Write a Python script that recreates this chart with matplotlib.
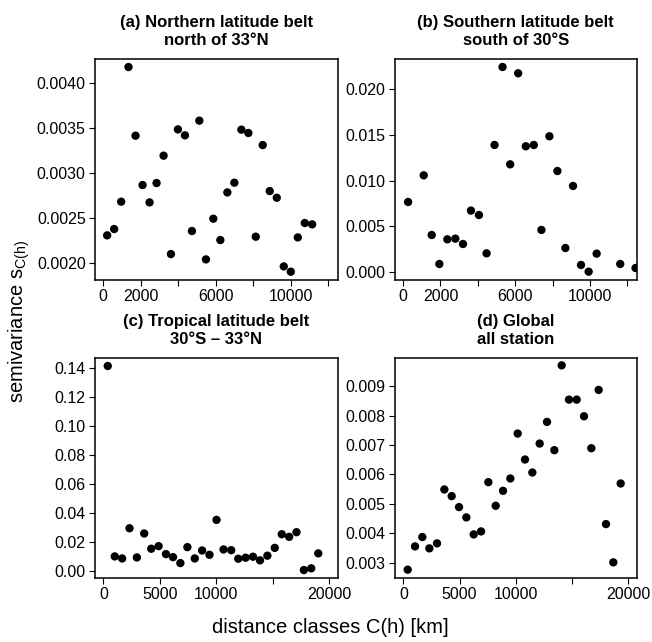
import matplotlib
matplotlib.use("Agg")
import matplotlib.pyplot as plt
from matplotlib.ticker import FormatStrFormatter

plt.rcParams['font.family'] = ['Liberation Sans', 'DejaVu Sans']
plt.rcParams['mathtext.fontset'] = 'custom'
plt.rcParams['mathtext.rm'] = 'Liberation Sans'
plt.rcParams['mathtext.it'] = 'Liberation Sans'

# (a) Northern latitude belt
xa = [214, 587, 961, 1352, 1726, 2100, 2473, 2847, 3221, 3612,
      3986, 4359, 4733, 5125, 5480, 5872, 6246, 6619, 6993, 7367,
      7740, 8132, 8505, 8879, 9253, 9626, 10000, 10374, 10747, 11139]
ya = [0.002304, 0.002374, 0.002678, 0.004174, 0.003411, 0.002863, 0.002670,
      0.002885, 0.003189, 0.002096, 0.003481, 0.003415, 0.002352, 0.003578,
      0.002037, 0.002489, 0.002252, 0.002781, 0.002889, 0.003478, 0.003441,
      0.002289, 0.003307, 0.002796, 0.002722, 0.001959, 0.001900, 0.002281,
      0.002441, 0.002426]

# (b) Southern latitude belt
xb = [267, 1103, 1530, 1940, 2367, 2794, 3203, 3630, 4057, 4466,
      4893, 5320, 5730, 6157, 6566, 6993, 7402, 7829, 8256, 8683,
      9093, 9520, 9929, 10356, 11619, 12438]
yb = [0.00767, 0.01058, 0.00407, 0.00091, 0.00360, 0.00367, 0.00309,
      0.00673, 0.00625, 0.00207, 0.01389, 0.02240, 0.01178, 0.02171,
      0.01375, 0.01389, 0.00462, 0.01484, 0.01105, 0.00265, 0.00942,
      0.00080, 0.00007, 0.00204, 0.00091, 0.00047]

# (c) Tropical latitude belt
xc = [385, 1008, 1660, 2312, 2964, 3616, 4238, 4890, 5542, 6165,
      6817, 7439, 8091, 8743, 9395, 10018, 10640, 11322, 11944, 12596,
      13248, 13871, 14523, 15175, 15797, 16449, 17101, 17753, 18405, 19028]
yc = [0.1416, 0.0103, 0.0089, 0.0297, 0.0096, 0.0261, 0.0156, 0.0174,
      0.0119, 0.0098, 0.0057, 0.0167, 0.0089, 0.0144, 0.0114, 0.0355,
      0.0151, 0.0146, 0.0087, 0.0094, 0.0101, 0.0076, 0.0108, 0.0162,
      0.0256, 0.0238, 0.0270, 0.0009, 0.0021, 0.0124]

# (d) Global
xd = [385, 1037, 1689, 2312, 2994, 3646, 4298, 4950, 5602, 6254,
      6906, 7558, 8210, 8862, 9514, 10166, 10818, 11470, 12122, 12774,
      13426, 14078, 14730, 15412, 16064, 16716, 17368, 18020, 18672, 19324]
yd = [0.002762, 0.003555, 0.003872, 0.003487, 0.003657, 0.005491, 0.005264,
      0.004891, 0.004540, 0.003962, 0.004064, 0.005740, 0.004936, 0.005445,
      0.005864, 0.007393, 0.006510, 0.006068, 0.007053, 0.007789, 0.006827,
      0.009713, 0.008547, 0.008547, 0.007981, 0.006894, 0.008876, 0.004313,
      0.003011, 0.005694]

titles = ["(a) Northern latitude belt\nnorth of 33°N",
          "(b) Southern latitude belt\nsouth of 30°S",
          "(c) Tropical latitude belt\n30°S – 33°N",
          "(d) Global\nall station"]

fig = plt.figure(figsize=(6.52, 6.42), dpi=100)

W, H = 652, 642
def box(x0, y0, x1, y1):
    return [x0 / W, 1 - y1 / H, (x1 - x0) / W, (y1 - y0) / H]

axa = fig.add_axes(box(94.7, 59, 337.7, 280))
axb = fig.add_axes(box(394.7, 59, 636.7, 280))
axc = fig.add_axes(box(94.7, 358, 337.7, 578))
axd = fig.add_axes(box(394.7, 358, 636.7, 578))

panels = [
    (axa, xa, ya, (-450, 12500), (0.001808, 0.004263),
     [0, 2000, 4000, 6000, 8000, 10000, 12000], ["0", "2000", "", "6000", "", "10000", ""],
     [0.0020, 0.0025, 0.0030, 0.0035, 0.0040], '%.4f'),
    (axb, xb, yb, (-450, 12500), (-0.00084, 0.02327),
     [0, 2000, 4000, 6000, 8000, 10000, 12000], ["0", "2000", "", "6000", "", "10000", ""],
     [0.000, 0.005, 0.010, 0.015, 0.020], '%.3f'),
    (axc, xc, yc, (-770, 20750), (-0.00458, 0.1471),
     [0, 5000, 10000, 15000, 20000], ["0", "5000", "10000", "", "20000"],
     [0.00, 0.02, 0.04, 0.06, 0.08, 0.10, 0.12, 0.14], '%.2f'),
    (axd, xd, yd, (-770, 20750), (0.002479, 0.009963),
     [0, 5000, 10000, 15000, 20000], ["0", "5000", "10000", "", "20000"],
     [0.003, 0.004, 0.005, 0.006, 0.007, 0.008, 0.009], '%.3f'),
]

for (ax, x, y, xl, yl, xt, xtl, yt, fmt), title in zip(panels, titles):
    ax.scatter(x, y, s=36, color='black', edgecolors='none', clip_on=True)
    ax.set_xlim(*xl)
    ax.set_ylim(*yl)
    ax.set_xticks(xt)
    ax.set_xticklabels(xtl)
    ax.set_yticks(yt)
    ax.yaxis.set_major_formatter(FormatStrFormatter(fmt))
    ax.tick_params(direction='out', length=4.5, width=0.8, labelsize=11.5, pad=2)
    for sp in ax.spines.values():
        sp.set_linewidth(1.1)
    ax.set_title(title, fontsize=12, fontweight='bold', pad=10, linespacing=1.3)

fig.text(19 / W, 0.5, 'semivariance s$_{\\mathrm{C(h)}}$', rotation=90,
         ha='center', va='center', fontsize=14.5)
fig.text(0.506, 0.022, 'distance classes C(h) [km]', ha='center', va='center',
         fontsize=14.5)

fig.savefig('out.png', dpi=100)
